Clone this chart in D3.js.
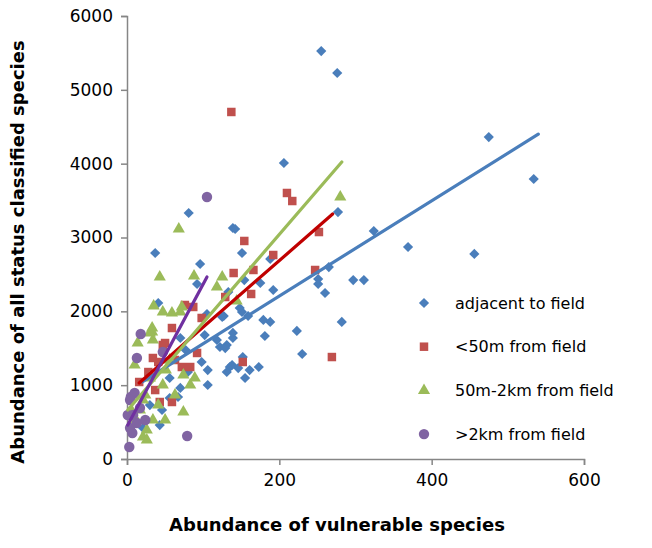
<!DOCTYPE html>
<html>
<head>
<meta charset="utf-8">
<script src="https://cdn.jsdelivr.net/npm/d3@7"></script>
<style>
  body { margin: 0; background: #fff; }
  text { font-family: "DejaVu Sans", Verdana, sans-serif; }
</style>
</head>
<body>
<div class="chart"></div>
<script>
// Abundance scatter, four distance classes with linear trend lines

// series: [vulnerable, all status classified]
var adjacent = [
  [255, 5525], [276, 5228], [475, 4360], [534, 3792], [206, 4009], [277, 3345],
  [324, 3088], [369, 2871], [456, 2777], [265, 2600], [251, 2438], [251, 2370],
  [260, 2248], [297, 2424], [311, 2424], [282, 1856], [223, 1734], [230, 1422],
  [181, 1666], [179, 1883], [188, 1856], [152, 1381], [161, 1205], [173, 1246],
  [155, 1097], [192, 2289], [175, 2384], [151, 2790], [188, 2709], [154, 2424],
  [151, 1991], [159, 1937], [81, 3332], [139, 3129], [142, 3115], [37, 2790],
  [96, 2641], [92, 2370], [133, 2262], [41, 2113], [127, 1937], [105, 1964],
  [125, 1923], [148, 2045], [102, 1679], [118, 1612], [122, 1517], [131, 1544],
  [139, 1639], [106, 1205], [135, 1246], [146, 1232], [70, 1639], [98, 1314],
  [77, 1476], [56, 1097], [70, 962], [106, 1002], [67, 840], [46, 664],
  [139, 1707], [138, 1273], [131, 1178], [129, 1503], [21, 420], [30, 731],
  [43, 460], [56, 826], [80, 1178]
]
var near50 = [
  [137, 4700], [210, 3603], [217, 3494], [154, 2953], [252, 3074], [192, 2763],
  [166, 2560], [247, 2560], [163, 2235], [269, 1381], [152, 1314], [140, 2519],
  [76, 2086], [87, 2059], [98, 1910], [129, 2194], [59, 1774], [47, 1544],
  [34, 1368], [63, 1341], [72, 1246], [83, 1246], [92, 1436], [59, 772],
  [43, 772], [50, 1571], [41, 1314], [28, 1178], [37, 934], [16, 1043]
]
var mid2km = [
  [280, 3549], [68, 3115], [43, 2465], [88, 2479], [125, 2465], [118, 2330],
  [35, 2072], [47, 1991], [59, 1977], [70, 1991], [72, 2059], [144, 2140],
  [33, 1774], [33, 1720], [34, 1612], [10, 1273], [14, 1571], [30, 1706],
  [74, 1138], [89, 1097], [74, 637], [21, 298], [47, 1002], [34, 528],
  [26, 393], [51, 1205], [56, 1341], [24, 867], [17, 664], [41, 731],
  [30, 1097], [63, 867], [83, 1002], [12, 528], [21, 799], [50, 528],
  [7, 637], [26, 257]
]
var far2km = [
  [105, 3548], [18, 1693], [13, 1368], [47, 1449], [79, 311], [3, 163],
  [8, 596], [4, 420], [7, 352], [13, 488], [5, 840], [10, 894],
  [4, 799], [1, 596], [17, 691], [24, 528]
]

// trend lines: [x start, x end, intercept, slope]
var trendAdjacent = [20, 540, 917, 6.45]
var trendNear50 = [16, 270, 885, 9.01]
var trendMid2km = [1, 282, 652, 11.95]
var trendFar2km = [1, 105, 440, 19.3]

var seriesNames = ['adjacent to field', '<50m from field', '50m-2km from field', '>2km from field']
var xTicks = [0, 200, 400, 600]
var yTicks = [0, 1000, 2000, 3000, 4000, 5000, 6000]

var svg = d3.select('.chart')
  .append('svg')
  .attr('width', 652)
  .attr('height', 548)

var xScale = d3.scaleLinear().domain([0, 600]).range([127, 584])
var yScale = d3.scaleLinear().domain([0, 6000]).range([459, 16])

var axisColor = '#868686'

// Y-axis
var yAxis = svg.append('g')
  .attr('transform', 'translate(127,0)')
  .call(d3.axisLeft(yScale).tickValues(yTicks).tickFormat(d3.format('d')).tickSize(6).tickPadding(8))
yAxis.selectAll('path, line').attr('stroke', axisColor).attr('stroke-width', 1.5)
yAxis.selectAll('text').attr('font-size', 17).attr('fill', '#000')
  .style('font-family', '"DejaVu Sans", Verdana, sans-serif')

// X-axis
var xAxis = svg.append('g')
  .attr('transform', 'translate(0,459)')
  .call(d3.axisBottom(xScale).tickValues(xTicks).tickFormat(d3.format('d')).tickSize(6).tickPadding(9))
xAxis.selectAll('path, line').attr('stroke', axisColor).attr('stroke-width', 1.5)
xAxis.selectAll('text').attr('font-size', 17).attr('fill', '#000')
  .style('font-family', '"DejaVu Sans", Verdana, sans-serif')

var styles = [
  { data: adjacent, color: '#4a7ebb', sym: d3.symbolSquare, size: 52, rot: 45, trend: trendAdjacent, line: '#4a7ebb' },
  { data: near50, color: '#c0504d', sym: d3.symbolSquare, size: 72, rot: 0, trend: trendNear50, line: '#c00000' },
  { data: mid2km, color: '#9bbb59', sym: d3.symbolTriangle, size: 64, rot: 0, trend: trendMid2km, line: '#9bbb59' },
  { data: far2km, color: '#8064a2', sym: d3.symbolCircle, size: 85, rot: 0, trend: trendFar2km, line: '#7030a0' }
]

// markers
styles.forEach(s => {
  svg.append('g').selectAll('path')
    .data(s.data)
    .enter()
    .append('path')
    .attr('d', d3.symbol().type(s.sym).size(s.size))
    .attr('transform', d => 'translate(' + xScale(d[0]) + ',' + yScale(d[1]) + ') rotate(' + s.rot + ')')
    .attr('fill', s.color)
})

// trend lines on top
var line = d3.line().x(d => xScale(d[0])).y(d => yScale(d[1]))
styles.forEach(s => {
  var t = s.trend
  svg.append('path')
    .datum([[t[0], t[2] + t[3] * t[0]], [t[1], t[2] + t[3] * t[1]]])
    .attr('d', line)
    .attr('fill', 'none')
    .attr('stroke', s.line)
    .attr('stroke-width', 3.2)
    .attr('stroke-linecap', 'round')
})

// legend
var legend = svg.append('g')
styles.forEach((s, i) => {
  var y = 303 + i * 43.7
  legend.append('path')
    .attr('d', d3.symbol().type(s.sym).size(s.size))
    .attr('transform', 'translate(424,' + y + ') rotate(' + s.rot + ')')
    .attr('fill', s.color)
  legend.append('text')
    .attr('x', 455)
    .attr('y', y)
    .attr('dy', '0.35em')
    .attr('font-size', 16)
    .text(seriesNames[i])
})

// axis titles
svg.append('text')
  .attr('x', 337)
  .attr('y', 531)
  .attr('text-anchor', 'middle')
  .attr('font-size', 18)
  .attr('font-weight', 'bold')
  .text('Abundance of vulnerable species')

svg.append('text')
  .attr('transform', 'translate(24,252) rotate(-90)')
  .attr('text-anchor', 'middle')
  .attr('font-size', 18)
  .attr('font-weight', 'bold')
  .text('Abundance of all status classified species')
</script>
</body>
</html>
